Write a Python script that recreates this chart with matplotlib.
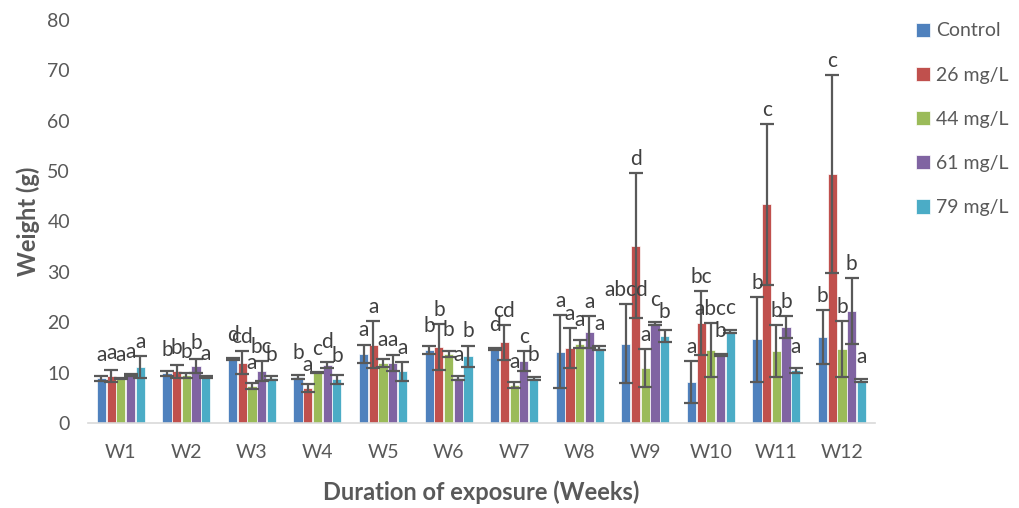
###########################################################
### Weight vs duration of exposure, grouped bars with SD and letters
###########################################################

import numpy as np
import matplotlib as mpl
mpl.use('Agg')
import matplotlib.pyplot as plt

plt.rcParams['font.family'] = ['Lato', 'DejaVu Sans']

#### data
weeks = ['W1', 'W2', 'W3', 'W4', 'W5', 'W6', 'W7', 'W8', 'W9', 'W10', 'W11', 'W12']
series = ['Control', '26 mg/L', '44 mg/L', '61 mg/L', '79 mg/L']

control     = [8.9, 9.9, 12.7, 9.2, 13.7, 14.5, 14.7, 14.2, 15.8, 8.2, 16.6, 17.1]
control_err = [0.5, 0.5, 0.2, 0.4, 1.8, 0.8, 0.2, 7.2, 7.9, 4.2, 8.4, 5.3]
mg26        = [9.3, 10.3, 12.0, 6.9, 15.6, 15.1, 16.0, 14.9, 35.2, 19.9, 43.4, 49.4]
mg26_err    = [1.2, 1.3, 2.3, 0.8, 4.7, 4.5, 3.5, 3.9, 14.4, 6.3, 16.0, 19.6]
mg44        = [8.9, 9.5, 7.3, 10.1, 11.9, 13.7, 7.5, 15.7, 10.9, 14.5, 14.3, 14.7]
mg44_err    = [0.1, 0.5, 0.6, 0.1, 0.8, 0.6, 0.6, 0.8, 3.8, 5.3, 5.2, 5.6]
mg61        = [9.5, 11.3, 10.3, 11.5, 11.9, 8.9, 12.3, 18.1, 19.8, 13.6, 19.0, 22.3]
mg61_err    = [0.2, 1.4, 2.0, 0.6, 1.6, 0.4, 2.0, 3.1, 0.3, 0.2, 2.2, 6.5]
mg79        = [11.1, 9.1, 8.9, 8.7, 10.3, 13.3, 8.9, 14.9, 17.3, 18.2, 10.5, 8.5]
mg79_err    = [2.2, 0.2, 0.4, 0.9, 1.9, 2.1, 0.3, 0.4, 1.2, 0.3, 0.5, 0.3]

control_lett = ['a', 'b', 'd', 'b', 'a', 'b', 'd', 'a', 'abcd', 'a', 'b', 'b']
mg26_lett    = ['a', 'b', 'cd', 'a', 'a', 'b', 'cd', 'a', 'd', 'bc', 'c', 'c']
mg44_lett    = ['a', 'b', 'a', 'c', 'a', 'b', 'a', 'a', 'a', 'abc', 'b', 'b']
mg61_lett    = ['a', 'b', 'bc', 'd', 'a', 'a', 'c', 'a', 'c', 'b', 'b', 'b']
mg79_lett    = ['a', 'a', 'b', 'b', 'a', 'b', 'b', 'a', 'b', 'c', 'a', 'a']

values = [control, mg26, mg44, mg61, mg79]
errors = [control_err, mg26_err, mg44_err, mg61_err, mg79_err]
letters = [control_lett, mg26_lett, mg44_lett, mg61_lett, mg79_lett]
colors = ['#4F81BD', '#C0504D', '#9BBB59', '#8064A2', '#4BACC6']

#### figure
fig = plt.figure(figsize=(10.19, 5.08), dpi=100)
ax = fig.add_axes([0.0864, 0.167, 0.772, 0.794])

x = np.arange(len(weeks))
step = 0.148
width = 0.14
for i in range(len(series)):
	xs = x + (i - 2) * step
	ax.bar(xs, values[i], width, color=colors[i], label=series[i],
		edgecolor='white', linewidth=0.5, zorder=2)
	ax.errorbar(xs, values[i], yerr=errors[i], fmt='none', ecolor='#595959',
		elinewidth=1.6, capsize=5, capthick=1.6, zorder=3)
	#### letters: a bit above the bar, or above the error bar if that is higher
	for xx, v, e, t in zip(xs, values[i], errors[i], letters[i]):
		ytxt = max(v + 3.5, v + e + 1.6)
		ax.text(xx, ytxt, t, ha='center', va='baseline', fontsize=15,
			color='#404040', zorder=4)

ax.set_xlim(-0.5, len(weeks) - 0.5)
ax.set_ylim(0, 80)
ax.set_yticks(np.arange(0, 81, 10))
ax.set_xticks(x)
ax.set_xticklabels(weeks)
ax.tick_params(axis='both', length=0, labelsize=14, labelcolor='#595959')
ax.tick_params(axis='x', pad=15)
ax.tick_params(axis='y', pad=13)
for s in ['top', 'right', 'left']:
	ax.spines[s].set_visible(False)
ax.spines['bottom'].set_color('#D9D9D9')
ax.spines['bottom'].set_linewidth(1.2)

ax.set_ylabel('Weight (g)', fontsize=17, fontweight='bold', color='#595959')
ax.yaxis.label.set_va('center')
ax.yaxis.set_label_coords(-0.0763, 0.5)
ax.set_xlabel('Duration of exposure (Weeks)', fontsize=17, fontweight='bold',
	color='#595959')
ax.xaxis.label.set_va('center')
ax.xaxis.set_label_coords(0.5, -0.171)

fig.legend(loc='upper left', bbox_to_anchor=(0.889, 0.975), frameon=False,
	fontsize=14, labelcolor='#595959', handlelength=0.75, handleheight=0.75,
	handletextpad=0.3, labelspacing=1.4, borderpad=0)

fig.savefig('out.png', dpi=100)
plt.close()
